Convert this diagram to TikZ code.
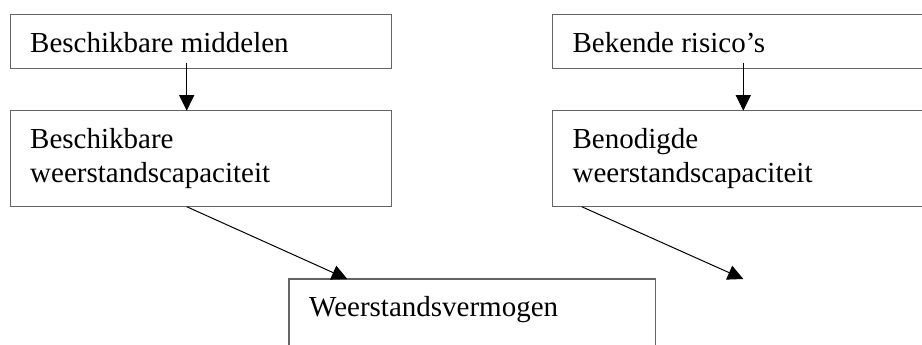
\documentclass[tikz,border=0pt]{standalone}
\usepackage{fontspec}
\setmainfont{Liberation Serif}
\usetikzlibrary{arrows.meta,calc}
\definecolor{boxgray}{RGB}{100,100,100}
\tikzset{
  boxnode/.style={draw=boxgray, line width=1.2pt, rectangle, anchor=north west, inner sep=0pt, outer sep=0pt},
  wide/.style={minimum width=381.4pt},
  txt/.style={anchor=base west, inner sep=0pt, align=left, font=\fontsize{29}{34.3}\selectfont},
  conn/.style={draw=black, line width=1pt, -{Triangle[length=15.5pt,width=15pt]}}
}
\begin{document}
\begin{tikzpicture}[x=1pt,y=-1pt]
\useasboundingbox (0,0) rectangle (922,345);
\clip (0,0) rectangle (922,345);
\node[boxnode, wide, minimum height=53.6pt] (b1) at (10.3,14.7) {};
\node[boxnode, wide, minimum height=96pt] (b2) at (10.3,110.7) {};
\node[boxnode, wide, minimum height=53.6pt] (b3) at (552.7,14.7) {};
\node[boxnode, wide, minimum height=96pt] (b4) at (552.7,110.7) {};
\node[boxnode, minimum width=366.7pt, minimum height=100pt] (b5) at (289,279) {};

\node[txt] (t1) at ($(b1.north west)+(19.7,37.5)$) {Beschikbare middelen};
\node[txt] (t2) at ($(b2.north west)+(19.7,71.8)$) {Beschikbare\\weerstandscapaciteit};
\node[txt] (t3) at ($(b3.north west)+(19.7,37.5)$) {Bekende risico’s};
\node[txt] (t4) at ($(b4.north west)+(19.7,71.8)$) {Benodigde\\weerstandscapaciteit};
\node[txt] (t5) at ($(b5.north west)+(20,37.5)$) {Weerstandsvermogen};

\coordinate (c1) at (186.7,62.7);
\coordinate (c2) at (743.3,63.3);
\coordinate (c3) at (347.3,279);
\coordinate (c4) at (581.7,207);
\coordinate (e2) at (743.3,279);

\draw[conn] (c1) -- (b2.north -| c1);
\draw[conn] (c2) -- (b4.north -| c2);
\draw[conn] (b2.south -| c1) -- (b5.north -| c3);
\draw[conn] (b4.south -| c4) -- (e2);
\end{tikzpicture}
\end{document}
